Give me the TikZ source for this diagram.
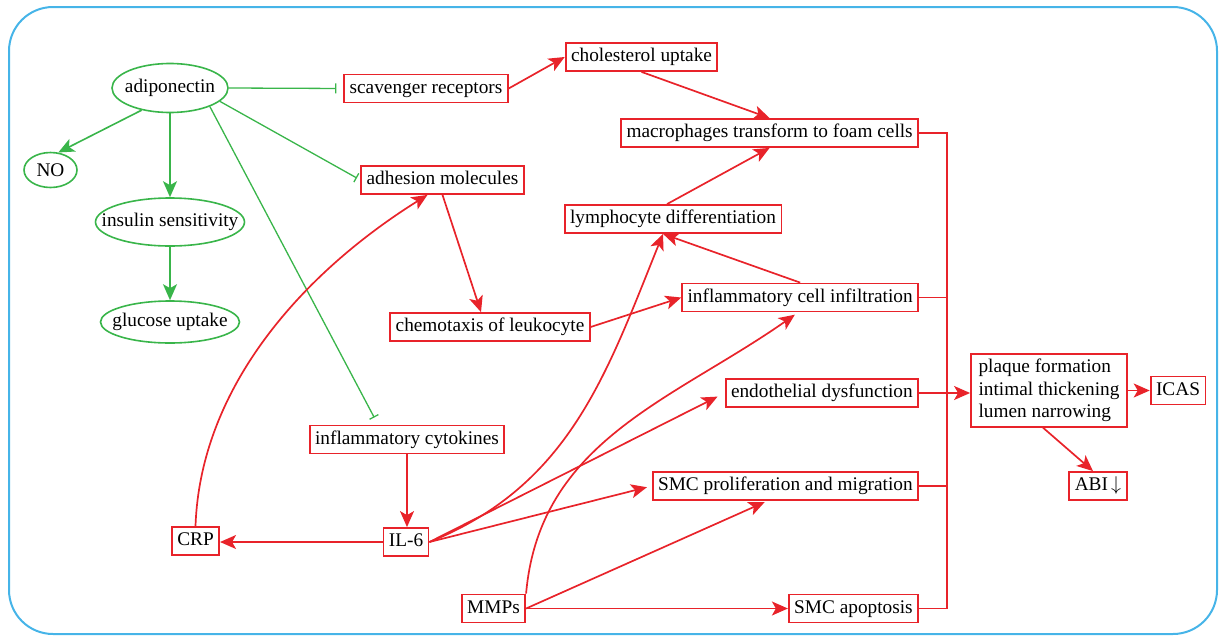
\documentclass[tikz,border=0pt]{standalone}
\usepackage{fontspec}
\setmainfont{Liberation Serif}
\usetikzlibrary{shapes.geometric,arrows.meta}
\definecolor{rcol}{RGB}{232,35,42}
\definecolor{gcol}{RGB}{57,181,74}
\definecolor{bcol}{RGB}{70,180,232}
\tikzset{
  txt/.style={font=\fontsize{9.65}{11.3}\selectfont},
  ell/.style={txt, ellipse, draw=gcol, line width=0.8pt, inner sep=0pt},
  boxbase/.style={txt, draw=rcol, line width=0.9pt, inner xsep=2.7pt, inner ysep=2.4pt},
  rbox/.style={boxbase, text height=7pt, text depth=2.2pt},
  garr/.style={draw=gcol, line width=0.8pt, -{Stealth[length=8pt,width=7pt,inset=2pt]}},
  gbar/.style={draw=gcol, line width=0.65pt, -{Bar[width=5pt]}},
  rarr/.style={draw=rcol, line width=0.85pt, -{Stealth[length=8pt,width=7pt,inset=2pt]}},
  rline/.style={draw=rcol, line width=0.85pt},
}
\begin{document}
\begin{tikzpicture}[x=0.5pt,y=0.5pt] %adiponectin y aterosclerosis
  \useasboundingbox (0,0) rectangle (1220,-637);
  \draw[bcol, line width=1pt, rounded corners=22pt] (9,-7) rectangle (1217,-634);

  % lado verde
  \node[ell, minimum width=58pt, minimum height=24.5pt] (adipo) at (170,-88) {\makebox[0pt]{adiponectin}};
  \node[ell, minimum width=26.5pt, minimum height=17.5pt] (no) at (50.5,-170) {\makebox[0pt]{NO}};
  \node[ell, minimum width=74.5pt, minimum height=24pt] (insulin) at (170,-222) {\makebox[0pt]{insulin sensitivity}};
  \node[ell, minimum width=69.5pt, minimum height=21pt] (glucose) at (170,-322) {\makebox[0pt]{glucose uptake}};

  % cajas rojas
  \node[rbox] (scav) at (426,-88.5) {scavenger receptors};
  \node[rbox] (chol) at (641.5,-57) {cholesterol uptake};
  \node[rbox, anchor=east] (foam) at (919,-133) {macrophages transform to foam cells};
  \node[rbox] (adhesion) at (442.5,-180) {adhesion molecules};
  \node[rbox] (lymph) at (673,-219) {lymphocyte differentiation};
  \node[rbox, anchor=east] (cellinf) at (919,-297.5) {inflammatory cell infiltration};
  \node[rbox] (chemo) at (490,-327) {chemotaxis of leukocyte};
  \node[rbox, anchor=east] (endo) at (919,-393) {endothelial dysfunction};
  \node[rbox] (cyto) at (407,-439.5) {inflammatory cytokines};
  \node[rbox] (il6) at (406,-542) {IL-6};
  \node[rbox] (crp) at (195.5,-541) {CRP};
  \node[rbox, anchor=east] (smcpro) at (919,-486) {SMC proliferation and migration};
  \node[rbox] (mmps) at (493.5,-608.5) {MMPs};
  \node[rbox, anchor=east] (apop) at (919,-608.5) {SMC apoptosis};
  \node[boxbase, align=left, inner xsep=3.7pt, minimum width=78pt, minimum height=34.5pt] (plaque) at (1049,-390.5) {plaque formation\\intimal thickening\\lumen narrowing};
  \node[rbox] (icas) at (1178,-390.5) {ICAS};
  \node[rbox] (abi) at (1098,-486) {ABI\,$\downarrow$};

  % flechas verdes
  \draw[gbar, shorten >=3.5pt] (adipo.east) -- (scav.west);
  \draw[garr] (adipo.218) -- (no.66);
  \draw[garr] (adipo.south) -- (insulin.north);
  \draw[gbar, shorten >=2pt] (adipo.-15) -- (adhesion.west);
  \draw[gbar, shorten >=4pt] (adipo.-25) -- ([xshift=-14.5pt]cyto.north);
  \draw[garr] (insulin.south) -- (glucose.north);

  % flechas rojas
  \draw[rarr] (scav.east) -- (chol.west);
  \draw[rarr] (chol.south) -- (foam.north);
  \draw[rarr] ([xshift=-3pt]lymph.north) -- (foam.south);
  \draw[rarr] (adhesion.south) -- ([xshift=-4.5pt]chemo.north);
  \draw[rarr] (crp.north) to[out=88,in=212,looseness=0.9] ([xshift=-7.5pt]adhesion.south);
  \draw[rarr] (chemo.east) -- (cellinf.west);
  \draw[rarr] (cellinf.north) -- ([xshift=-5pt]lymph.south);
  \draw[rarr] (cyto.south) -- (cyto.south |- il6.north);
  \draw[rarr] (il6.west) -- (il6.west -| crp.east);
  \draw[rarr] (il6.east) to[out=22,in=248] ([xshift=-5pt]lymph.south);
  \draw[rarr, shorten >=4pt] (il6.east) -- (endo.west);
  \draw[rarr, shorten >=2.5pt] (il6.east) -- (smcpro.west);
  \draw[rarr, shorten >=2pt] (mmps.north east) to[out=85,in=215] ([xshift=-1pt]cellinf.south);
  \draw[rarr, shorten >=1.5pt] (mmps.east) -- ([xshift=-9pt]smcpro.south);
  \draw[rarr] (mmps.east) -- (apop.west);

  % barra de la derecha
  \coordinate (bus) at (947,0);
  \draw[rline] (foam.east) -- (foam.east -| bus) -- (apop.east -| bus) -- (apop.east);
  \draw[rline] (cellinf.east) -- (cellinf.east -| bus);
  \draw[rline] (smcpro.east) -- (smcpro.east -| bus);
  \draw[rarr] (endo.east) -- (endo.east -| plaque.west);
  \draw[rarr] (plaque.east) -- (plaque.east -| icas.west);
  \draw[rarr] ([xshift=-3pt]plaque.south) -- ([xshift=-2.5pt]abi.north);
\end{tikzpicture}
\end{document}
